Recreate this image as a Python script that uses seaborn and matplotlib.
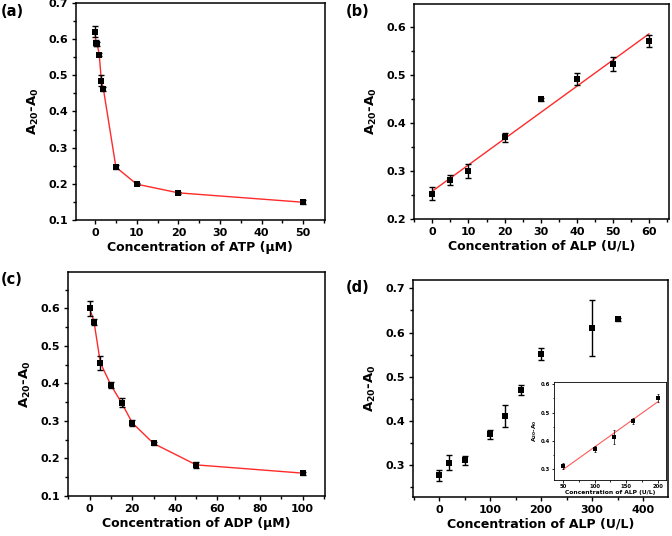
import numpy as np
import pandas as pd
import matplotlib
matplotlib.use("Agg")
import matplotlib.pyplot as plt
from matplotlib.ticker import MultipleLocator
import seaborn as sns

# ---- data ----
atp_x = [0, 0.2, 0.5, 1, 1.5, 2, 5, 10, 20, 50]
atp_y = [0.620, 0.590, 0.587, 0.557, 0.485, 0.462, 0.246, 0.199, 0.175, 0.149]
atp_err = [0.015, 0.008, 0.006, 0.004, 0.015, 0.006, 0.006, 0.003, 0.003, 0.006]

alp_b_x = [0, 5, 10, 20, 30, 40, 50, 60]
alp_b_y = [0.253, 0.281, 0.300, 0.370, 0.449, 0.491, 0.522, 0.570]
alp_b_err = [0.014, 0.011, 0.015, 0.009, 0.003, 0.012, 0.014, 0.013]

adp_x = [0, 2, 5, 10, 15, 20, 30, 50, 100]
adp_y = [0.600, 0.565, 0.455, 0.395, 0.348, 0.295, 0.240, 0.183, 0.161]
adp_err = [0.020, 0.008, 0.018, 0.008, 0.012, 0.008, 0.004, 0.008, 0.004]

alp_d_x = [0, 20, 50, 100, 130, 160, 200, 300, 350]
alp_d_y = [0.277, 0.306, 0.311, 0.370, 0.412, 0.470, 0.551, 0.610, 0.630]
alp_d_err = [0.012, 0.018, 0.010, 0.010, 0.025, 0.012, 0.014, 0.064, 0.003]

inset_x = [50, 100, 130, 160, 200]
inset_y = [0.311, 0.370, 0.412, 0.470, 0.551]
inset_err = [0.010, 0.010, 0.025, 0.012, 0.014]

sns.set_style("ticks")
plt.rcParams['font.family'] = ['DejaVu Sans']
plt.rcParams['font.weight'] = 'bold'
plt.rcParams['axes.labelweight'] = 'bold'
plt.rcParams['mathtext.default'] = 'bf'
plt.rcParams['axes.linewidth'] = 1.1
plt.rcParams['xtick.direction'] = 'out'
plt.rcParams['ytick.direction'] = 'out'
plt.rcParams['text.color'] = 'black'
plt.rcParams['axes.labelcolor'] = 'black'
plt.rcParams['xtick.color'] = 'black'
plt.rcParams['ytick.color'] = 'black'

fig = plt.figure(figsize=(6.72, 5.36), dpi=100)

ylab = r"A$_{20}$-A$_{0}$"
RED = '#ff2a2a'

def style(ax, xmaj, xmin, ymaj, ymin, fs=8, tl=3.2):
    ax.xaxis.set_major_locator(MultipleLocator(xmaj))
    ax.xaxis.set_minor_locator(MultipleLocator(xmin))
    ax.yaxis.set_major_locator(MultipleLocator(ymaj))
    ax.yaxis.set_minor_locator(MultipleLocator(ymin))
    ax.tick_params(which='major', length=tl, width=1.0, labelsize=fs, colors='black', pad=2.5)
    ax.tick_params(which='minor', length=tl * 0.6, width=1.0)
    for lab in ax.get_xticklabels() + ax.get_yticklabels():
        lab.set_fontweight('bold')
    for s in ax.spines.values():
        s.set_visible(True)
        s.set_color('black')

def points(ax, x, y, e, ms=5, cs=2.2, lw=1.0):
    ax.errorbar(x, y, yerr=e, fmt='none', ecolor='black', elinewidth=lw, capsize=cs, capthick=lw, zorder=3)
    sns.scatterplot(x=x, y=y, ax=ax, marker='s', s=ms**2, color='black', edgecolor='black',
                    linewidth=0, zorder=4, legend=False)

def labels(ax, xl, fs=9):
    ax.set_xlabel(xl, fontsize=fs, fontweight='bold', labelpad=2)
    ax.set_ylabel(ylab, fontsize=fs + 0.5, fontweight='bold', labelpad=5)

# (a)
ax = fig.add_axes([0.113, 0.5896, 0.3705, 0.4049])
sns.lineplot(x=atp_x, y=atp_y, ax=ax, color=RED, lw=1.0, sort=True, estimator=None, zorder=2)
points(ax, atp_x, atp_y, atp_err)
ax.set_xlim(-4.6, 55.2)
ax.set_ylim(0.1, 0.7)
style(ax, 10, 5, 0.1, 0.05)
labels(ax, "Concentration of ATP (µM)")

# (b)
ax = fig.add_axes([0.616, 0.5914, 0.3795, 0.4011])
sns.regplot(x=alp_b_x, y=alp_b_y, ax=ax, ci=None, scatter=False,
            line_kws=dict(color=RED, lw=1.0, zorder=2))
points(ax, alp_b_x, alp_b_y, alp_b_err)
ax.set_xlim(-5.1, 65.5)
ax.set_ylim(0.2, 0.647)
style(ax, 10, 5, 0.1, 0.05)
labels(ax, "Concentration of ALP (U/L)")

# (c)
ax = fig.add_axes([0.1012, 0.0746, 0.3824, 0.4179])
sns.lineplot(x=adp_x, y=adp_y, ax=ax, color=RED, lw=1.0, sort=True, estimator=None, zorder=2)
points(ax, adp_x, adp_y, adp_err)
ax.set_xlim(-10.2, 110.5)
ax.set_ylim(0.1, 0.697)
style(ax, 20, 10, 0.1, 0.05)
ax.set_yticks([0.1, 0.2, 0.3, 0.4, 0.5, 0.6])
labels(ax, "Concentration of ADP (µM)")

# (d)
ax = fig.add_axes([0.6146, 0.0728, 0.3795, 0.4048])
points(ax, alp_d_x, alp_d_y, alp_d_err)
ax.set_xlim(-51, 449)
ax.set_ylim(0.228, 0.719)
style(ax, 100, 50, 0.1, 0.05)
ax.set_yticks([0.3, 0.4, 0.5, 0.6, 0.7])
labels(ax, "Concentration of ALP (U/L)")

# inset
axi = fig.add_axes([0.8244, 0.1045, 0.1667, 0.1828])
sns.regplot(x=inset_x, y=inset_y, ax=axi, ci=None, scatter=False,
            line_kws=dict(color='#ff5a5a', lw=0.8, zorder=2))
points(axi, inset_x, inset_y, inset_err, ms=2.2, cs=0.9, lw=0.5)
axi.set_xlim(35.6, 213)
axi.set_ylim(0.261, 0.608)
style(axi, 50, 25, 0.1, 0.05, fs=3.8, tl=1.8)
for s in axi.spines.values():
    s.set_linewidth(0.6)
axi.tick_params(which='both', width=0.6, pad=1)
axi.set_xlabel("Concentration of ALP (U/L)", fontsize=4.3, fontweight='bold', labelpad=1)
axi.set_ylabel(ylab, fontsize=4.3, fontweight='bold', labelpad=1)

# panel labels
for lbl, (px, py) in {"(a)": (1, 4), "(b)": (346, 4), "(c)": (1, 272), "(d)": (346, 280)}.items():
    fig.text(px / 672, 1 - py / 536, lbl, fontsize=10.5, fontweight='bold', ha='left', va='top')

fig.savefig("out.png", dpi=100)
